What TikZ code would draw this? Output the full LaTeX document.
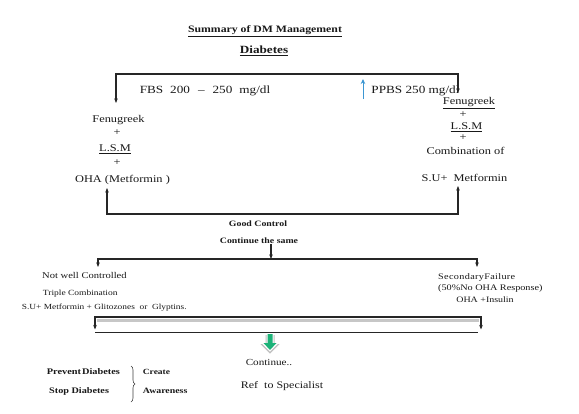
\documentclass[tikz,border=0pt]{standalone}
\usepackage{fontspec}
\setmainfont{Liberation Serif}[FakeStretch=1.2]
\usetikzlibrary{arrows.meta,decorations.pathreplacing}
\newcommand\fsz[1]{\fontsize{#1}{#1}\selectfont}
\definecolor{arrowgreen}{RGB}{28,178,120}
\definecolor{arrowblue}{RGB}{60,150,210}
\begin{document}
\begin{tikzpicture}[x=1pt,y=-1pt,
  t/.style={inner sep=0pt, anchor=center, text=black!90},
  tw/.style={inner sep=0pt, anchor=west, text=black!90},
  ln/.style={line width=1.1pt, draw=black!85},
  tip/.style={-{Stealth[length=4.5pt,width=3.5pt]}},
  both/.style={{Stealth[length=4.5pt,width=3.5pt]}-{Stealth[length=4.5pt,width=3.5pt]}},
]
\fill[white] (0,0) rectangle (579,413);
\useasboundingbox (0,0) rectangle (579,413);

% titles
\node[t,font=\bfseries\fsz{9.8}] (title) at (265,31.5) {\underline{Summary of DM Management}};
\node[t,font=\bfseries\fsz{11}] (diab) at (264,51) {\underline{Diabetes}};

% top row
\node[t,font=\fsz{11}] (fbs) at (205,91) {FBS\hspace{7pt}200\hspace{8pt}–\hspace{8pt}250\hspace{7pt}mg/dl};
\node[t,font=\fsz{11}] (ppbs) at (415.5,91) {PPBS 250 mg/dl};

% left stack
\node[t,font=\fsz{10.3}] (fenL) at (118.5,120) {Fenugreek};
\node[t,font=\fsz{10.3}] (plusL1) at (117,132.5) {+};
\node[t,font=\fsz{10.3}] (lsmL) at (115,149) {\underline{L.S.M}};
\node[t,font=\fsz{10.3}] (plusL2) at (117,162.5) {+};
\node[t,font=\fsz{10.3}] (ohaL) at (122.5,180) {OHA (Metformin )};

% right stack
\node[t,font=\fsz{10.3}] (fenR) at (469,103) {\underline{Fenugreek}};
\node[t,font=\fsz{10.3}] (plusR1) at (463,114.5) {+};
\node[t,font=\fsz{10.3}] (lsmR) at (466.5,127) {\underline{L.S.M}};
\node[t,font=\fsz{10.3}] (plusR2) at (463,137.5) {+};
\node[t,font=\fsz{10.3}] (combR) at (465.5,151) {Combination of};
\node[t,font=\fsz{10.3}] (suR) at (464.5,177.5) {S.U+\ \ Metformin};

% middle
\node[t,font=\bfseries\fsz{8.2}] (good) at (258,224) {Good Control};
\node[t,font=\bfseries\fsz{8.2}] (same) at (259,241) {Continue the same};

% lower left
\node[tw,font=\fsz{8.8}] (notwell) at (42,275.5) {Not well Controlled};
\node[tw,font=\fsz{7.9}] (triple) at (42.7,293.5) {Triple Combination};
\node[tw,font=\fsz{7.8}] (sulist) at (21.7,307.8) {S.U+ Metformin + Glitozones\ \ or\ \ Glyptins.};

% lower right
\node[tw,font=\fsz{8.5}\addfontfeatures{LetterSpace=4}] (secfail) at (438,277.5) {SecondaryFailure};
\node[tw,font=\fsz{8.5}] (noresp) at (438,288.5) {(50\%No OHA Response)};
\node[t,font=\fsz{8.3}] (insulin) at (485,299.5) {OHA +Insulin};

% bottom
\node[t,font=\fsz{9.3}] (cont) at (269,362) {Continue..};
\node[t,font=\fsz{10}] (ref) at (282,386) {Ref\ \ to Specialist};

\node[tw,font=\bfseries\fsz{8.6}] (prev) at (46.7,372) {Prevent\hspace{1pt}Diabetes};
\node[tw,font=\bfseries\fsz{8.5}] (stop) at (49,391) {Stop Diabetes};
\node[tw,font=\bfseries\fsz{7.9}] (create) at (142.7,372) {Create};
\node[tw,font=\bfseries\fsz{8.2}] (aware) at (142.7,391) {Awareness};

% brace
\coordinate (b1) at (131,366);
\coordinate (b2) at (131,402);
\draw[decorate,decoration={brace,amplitude=4pt},line width=0.6pt,draw=black!75] (b1) -- (b2);

% top bracket
\coordinate (tl) at (116,103);
\coordinate (tlc) at (116,74);
\coordinate (trc) at (458,74);
\coordinate (tr) at (458,93);
\draw[ln,both] (tl) -- (tlc) -- (trc) -- (tr);

% blue arrow
\coordinate (bu1) at (363,99);
\coordinate (bu2) at (363,79);
\draw[line width=1pt,draw=arrowblue,-{Stealth[length=5pt,width=4.5pt]}] (bu1) -- (bu2);

% bottom bracket of first level
\coordinate (bl) at (107,188);
\coordinate (blc) at (107,214);
\coordinate (brc) at (458,214);
\coordinate (br) at (458,186);
\draw[ln,both] (bl) -- (blc) -- (brc) -- (br);

% continue the same arrow and middle bracket
\coordinate (mj) at (271,259);
\draw[ln,tip] (same.south -| mj) -- (mj);
\coordinate (ml) at (98,267);
\coordinate (mlc) at (98,259);
\coordinate (mrc) at (477,259);
\coordinate (mr) at (477,267);
\draw[ln,both] (ml) -- (mlc) -- (mrc) -- (mr);

% lower double bracket
\coordinate (sh1) at (97,320.5);
\coordinate (sh2) at (479,320.5);
\draw[black!22,line width=3pt] (sh1) -- (sh2);
\coordinate (ll) at (95,329.5);
\coordinate (llc) at (95,317);
\coordinate (lrc) at (481,317);
\coordinate (lr) at (481,329.5);
\draw[ln,both] (ll) -- (llc) -- (lrc) -- (lr);
\coordinate (lb1) at (95,332.5);
\coordinate (lb2) at (478,332.5);
\draw[ln] (lb1) -- (lb2);

% green block arrow
\fill[black!25] (265.5,335) -- (274.5,335) -- (274.5,344) -- (279.5,344) -- (270,353.5) -- (260.5,344) -- (265.5,344) -- cycle;
\fill[white] (266.5,334.5) -- (273.5,334.5) -- (273.5,343.5) -- (278,343.5) -- (270,351.5) -- (262,343.5) -- (266.5,343.5) -- cycle;
\fill[arrowgreen] (267.5,334) -- (272.5,334) -- (272.5,343) -- (276.5,343) -- (270,350) -- (263.5,343) -- (267.5,343) -- cycle;
\end{tikzpicture}
\end{document}
